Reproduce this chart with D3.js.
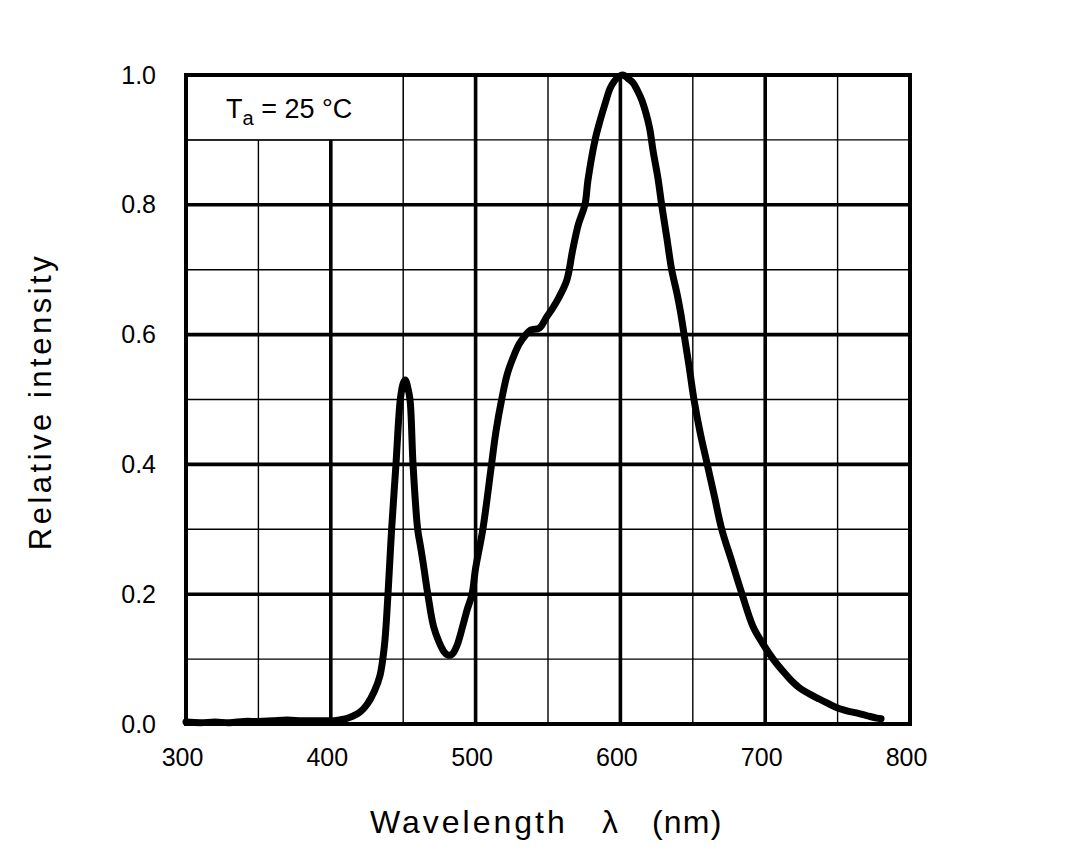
<!DOCTYPE html>
<html>
<head>
<meta charset="utf-8">
<script src="https://cdn.jsdelivr.net/npm/d3@7/dist/d3.min.js"></script>
<style>
  html, body { margin: 0; padding: 0; background: #fff; }
  svg { display: block; }
  text { font-family: "Liberation Sans", Arial, sans-serif; fill: #000; }
</style>
</head>
<body>
<svg id="chart" width="1090" height="859"></svg>
<script>
// ---- data ----
const wavelength = [300,310,320,330,340,350,360,370,380,390,400,405,410,415,420,425,430,434,437,439.5,442,445,448,450,451.5,453,454.7,456.8,460,462,464,467,471,475,478,481,484,487,491,494,497.5,500,505,511,514,518,522,526,530,534,538,544,549,553,557,563,567,571,575.5,577.6,582.5,586,590,593,597.6,601.8,605,608.7,612,615,620,622.5,626,628.5,632,635.4,639,641.5,644,647.5,650.8,655,660,665,670,677,684,691.6,698,705.5,712,718,724,730,736,743,749.6,757,763,770,777,780];
const intensity  = [0.003,0.002,0.003,0.002,0.004,0.004,0.005,0.006,0.005,0.005,0.005,0.006,0.008,0.012,0.018,0.03,0.05,0.075,0.12,0.2,0.3,0.4,0.5,0.525,0.53,0.52,0.5,0.4,0.3,0.273,0.245,0.2,0.15,0.125,0.112,0.106,0.108,0.12,0.15,0.175,0.2,0.24,0.3,0.4,0.45,0.5,0.54,0.565,0.585,0.598,0.607,0.61,0.627,0.64,0.655,0.684,0.73,0.77,0.8,0.838,0.9,0.93,0.96,0.98,0.995,1.0,0.995,0.988,0.975,0.96,0.92,0.884,0.84,0.8,0.75,0.7,0.664,0.635,0.6,0.55,0.5,0.45,0.4,0.35,0.3,0.25,0.2,0.15,0.125,0.1,0.082,0.067,0.055,0.047,0.04,0.032,0.025,0.02,0.017,0.013,0.009,0.008];
const xTicks = [300,400,500,600,700,800];
const xMinor = [350,450,550,650,750];
const yTicks = [0,0.2,0.4,0.6,0.8,1.0];
const yMinor = [0.1,0.3,0.5,0.7,0.9];
const xTitleParts = ["Wavelength", "\u03bb", "(nm)"];
const yTitle = "Relative intensity";

// ---- layout ----
const svg = d3.select("#chart");
const L = 186, R = 910, T = 75, B = 724;
const x = d3.scaleLinear().domain([300, 800]).range([L, R]);
const y = d3.scaleLinear().domain([0, 1]).range([B, T]);

// minor grid
svg.append("g").selectAll("line").data(xMinor).join("line")
  .attr("x1", d => x(d)).attr("x2", d => x(d)).attr("y1", T).attr("y2", B)
  .attr("stroke", "#000").attr("stroke-width", 1.4);
svg.append("g").selectAll("line").data(yMinor).join("line")
  .attr("y1", d => y(d)).attr("y2", d => y(d)).attr("x1", L).attr("x2", R)
  .attr("stroke", "#000").attr("stroke-width", 1.4);
// major grid
svg.append("g").selectAll("line").data(xTicks.slice(1, -1)).join("line")
  .attr("x1", d => x(d)).attr("x2", d => x(d)).attr("y1", T).attr("y2", B)
  .attr("stroke", "#000").attr("stroke-width", 3.6);
svg.append("g").selectAll("line").data(yTicks.slice(1, -1)).join("line")
  .attr("y1", d => y(d)).attr("y2", d => y(d)).attr("x1", L).attr("x2", R)
  .attr("stroke", "#000").attr("stroke-width", 3.6);

// legend box (covers grid)
const lg = svg.append("g");
lg.append("rect")
  .attr("x", x(300)).attr("y", y(1.0))
  .attr("width", x(450) - x(300)).attr("height", y(0.9) - y(1.0))
  .attr("fill", "#fff").attr("stroke", "#000").attr("stroke-width", 1.5);
const lt = lg.append("text")
  .attr("x", 226).attr("y", 118)
  .attr("text-anchor", "start").attr("font-size", 27);
lt.append("tspan").text("T");
lt.append("tspan").attr("font-size", 20).attr("dy", 7).text("a");
lt.append("tspan").attr("dy", -7).text(" = 25 \u00b0C");

// curve
const line = d3.line().x((d, i) => x(wavelength[i])).y(d => y(d)).curve(d3.curveCatmullRom.alpha(0.5));
svg.append("path").datum(intensity)
  .attr("d", line).attr("fill", "none").attr("stroke", "#000")
  .attr("stroke-width", 7).attr("stroke-linejoin", "round").attr("stroke-linecap", "round");

// frame
svg.append("rect").attr("x", L).attr("y", T).attr("width", R - L).attr("height", B - T)
  .attr("fill", "none").attr("stroke", "#000").attr("stroke-width", 4);

// axes labels via d3 axes (no tick lines)
const ax = svg.append("g").attr("transform", `translate(-4,${B + 21})`)
  .call(d3.axisBottom(x).tickValues(xTicks).tickSize(0).tickFormat(d3.format("d")));
ax.attr("font-size", 25).attr("font-family", "Liberation Sans, Arial, sans-serif");
ax.select(".domain").remove();
ax.selectAll("text").attr("font-size", 25).attr("fill", "#000");

const ay = svg.append("g").attr("transform", `translate(156,0)`)
  .call(d3.axisLeft(y).tickValues(yTicks).tickSize(0).tickPadding(0).tickFormat(d3.format(".1f")));
ay.attr("font-size", 25).attr("font-family", "Liberation Sans, Arial, sans-serif");
ay.select(".domain").remove();
ay.selectAll("text").attr("font-size", 25).attr("fill", "#000");

// titles
const xt = svg.append("g").attr("font-size", 32);
xt.append("text").attr("x", 370).attr("y", 833).attr("letter-spacing", 3).text(xTitleParts[0]);
xt.append("text").attr("x", 610).attr("y", 833).attr("text-anchor", "middle").text(xTitleParts[1]);
xt.append("text").attr("x", 652).attr("y", 833).attr("letter-spacing", 1.2).text(xTitleParts[2]);
svg.append("text").attr("transform", `translate(51,${(T + B) / 2 + 2}) rotate(-90)`)
  .attr("text-anchor", "middle").attr("font-size", 31).attr("letter-spacing", 3.5).text(yTitle);
</script>
</body>
</html>
